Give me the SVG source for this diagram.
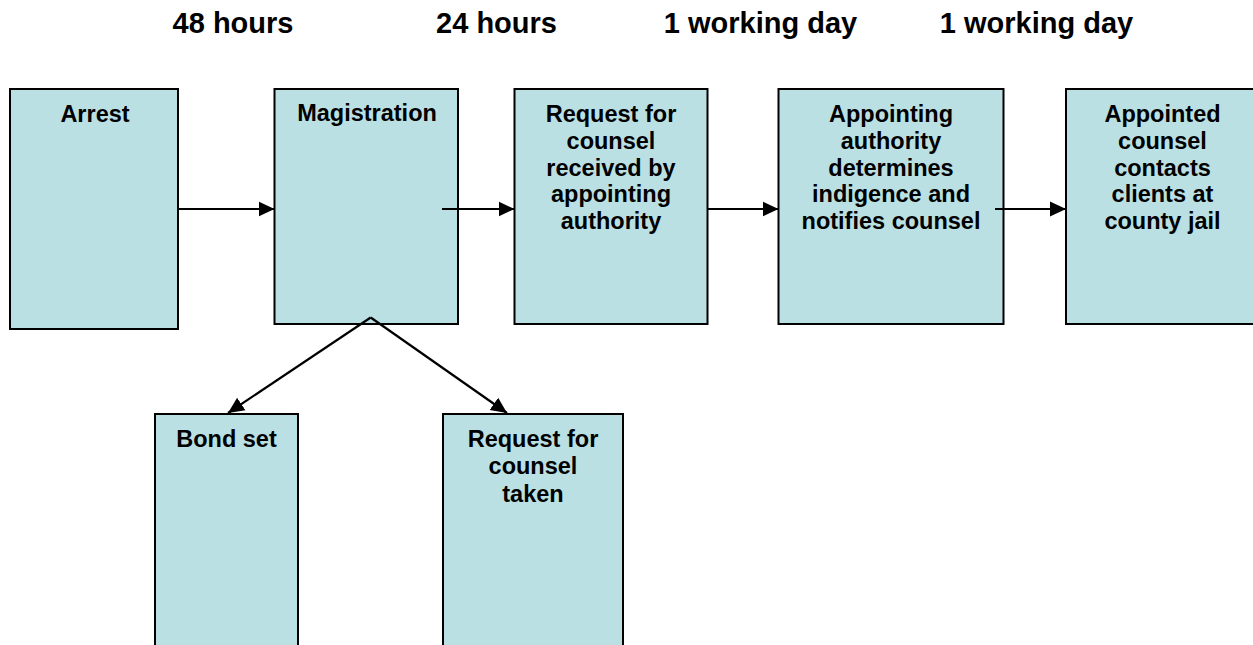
<svg xmlns="http://www.w3.org/2000/svg" width="1253" height="645" viewBox="0 0 1253 645">
<style>
.box{fill:#BBE0E3;stroke:#000;stroke-width:2}
.t{font-family:"Liberation Sans",Arial,sans-serif;font-weight:bold;font-size:23.5px;text-anchor:middle;fill:#000}
.h{font-family:"Liberation Sans",Arial,sans-serif;font-weight:bold;font-size:29px;text-anchor:middle;fill:#000}
.c{stroke:#000;stroke-width:2.2;fill:none}
</style>
<defs>
<marker id="ah" markerUnits="userSpaceOnUse" markerWidth="17" markerHeight="17" viewBox="0 0 17 17" refX="16" refY="8.5" orient="auto">
<path d="M0,1 L16,8.5 L0,16 z" fill="#000"/>
</marker>
</defs>
<rect width="1253" height="645" fill="#fff"/>
<g id="headers">
<text class="h" x="233" y="32.5">48 hours</text>
<text class="h" x="496.5" y="32.5">24 hours</text>
<text class="h" x="760.5" y="32.5">1 working day</text>
<text class="h" x="1036.5" y="32.5">1 working day</text>
</g>
<g id="arrest">
<rect class="box" x="10" y="89" width="168" height="240"/>
<text class="t" x="95" y="122">Arrest</text>
</g>
<g id="magistration">
<rect class="box" x="274.5" y="89" width="183.5" height="235"/>
<text class="t" x="367" y="121">Magistration</text>
</g>
<g id="request-received">
<rect class="box" x="514.5" y="89" width="193" height="235"/>
<text class="t" x="611" y="122"><tspan x="611">Request for</tspan><tspan x="611" dy="26.8">counsel</tspan><tspan x="611" dy="26.8">received by</tspan><tspan x="611" dy="26.8">appointing</tspan><tspan x="611" dy="26.8">authority</tspan></text>
</g>
<g id="appointing-authority">
<rect class="box" x="778.5" y="89" width="225" height="235"/>
<text class="t" x="891" y="122"><tspan x="891">Appointing</tspan><tspan x="891" dy="26.8">authority</tspan><tspan x="891" dy="26.8">determines</tspan><tspan x="891" dy="26.8">indigence and</tspan><tspan x="891" dy="26.8">notifies counsel</tspan></text>
</g>
<g id="appointed-counsel">
<rect class="box" x="1066" y="89" width="193" height="235"/>
<text class="t" x="1162.5" y="122"><tspan x="1162.5">Appointed</tspan><tspan x="1162.5" dy="26.8">counsel</tspan><tspan x="1162.5" dy="26.8">contacts</tspan><tspan x="1162.5" dy="26.8">clients at</tspan><tspan x="1162.5" dy="26.8">county jail</tspan></text>
</g>
<g id="bond-set">
<rect class="box" x="155" y="414" width="143" height="250"/>
<text class="t" x="226.5" y="446.5">Bond set</text>
</g>
<g id="request-taken">
<rect class="box" x="443" y="414" width="180" height="250"/>
<text class="t" x="533" y="446.5"><tspan x="533">Request for</tspan><tspan x="533" dy="27.5">counsel</tspan><tspan x="533" dy="27.5">taken</tspan></text>
</g>
<g id="connectors">
<line class="c" x1="177" y1="209" x2="274.5" y2="209" marker-end="url(#ah)"/>
<line class="c" x1="442" y1="209" x2="514.5" y2="209" marker-end="url(#ah)"/>
<line class="c" x1="707.5" y1="209" x2="778.5" y2="209" marker-end="url(#ah)"/>
<line class="c" x1="995" y1="209" x2="1066" y2="209" marker-end="url(#ah)"/>
<line class="c" x1="370.7" y1="317.5" x2="228" y2="413" marker-end="url(#ah)"/>
<line class="c" x1="370.7" y1="317.5" x2="507" y2="413" marker-end="url(#ah)"/>
</g>
</svg>
